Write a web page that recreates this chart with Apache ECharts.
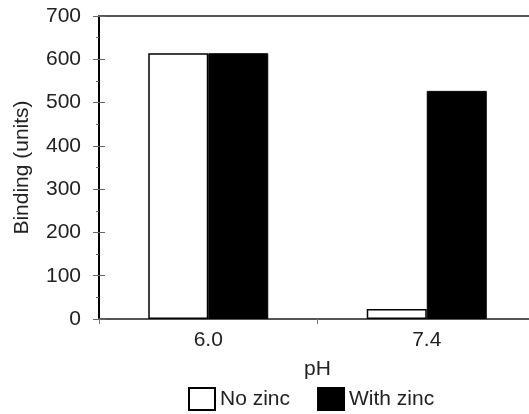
<!DOCTYPE html>
<html>
<head>
<meta charset="utf-8">
<script src="https://cdn.jsdelivr.net/npm/echarts@6/dist/echarts.min.js"></script>
<style>
  html, body { margin: 0; padding: 0; background: #fff; }
  #chart { width: 529px; height: 414px; }
</style>
</head>
<body>
<div id="chart"></div>
<script>
const categories = ['6.0', '7.4'];
const noZinc = [614, 23];
const withZinc = [614, 527];
const yTicks = [0, 700, 100];

const font = 'Liberation Sans, Arial, sans-serif';
const chart = echarts.init(document.getElementById('chart'));

chart.setOption({
  animation: false,
  textStyle: { fontFamily: font },
  grid: {
    left: 99, width: 437, top: 16, bottom: 95,
    outerBoundsMode: 'none'
  },
  legend: {
    left: 188, top: 387, padding: 0,
    itemWidth: 26, itemHeight: 22, itemGap: 27,
    icon: 'rect',
    textStyle: { fontFamily: font, fontSize: 21, color: '#222' },
    data: ['No zinc', 'With zinc']
  },
  xAxis: [
    {
      type: 'category',
      data: categories,
      name: 'pH',
      nameLocation: 'middle',
      nameGap: 40,
      nameTextStyle: { fontFamily: font, fontSize: 21, color: '#222' },
      axisLine: { lineStyle: { color: '#555', width: 2 } },
      axisTick: { show: true, length: 5, lineStyle: { color: '#777' } },
      axisLabel: { fontFamily: font, fontSize: 21, color: '#222', margin: 11 }
    },
    {
      type: 'category',
      position: 'top',
      data: categories,
      axisLine: { show: true, onZero: false, lineStyle: { color: '#555', width: 2 } },
      axisTick: { show: false },
      axisLabel: { show: false }
    }
  ],
  yAxis: [
    {
      type: 'value',
      min: yTicks[0], max: yTicks[1], interval: yTicks[2],
      name: 'Binding (units)',
      nameLocation: 'middle',
      nameGap: 66,
      nameTextStyle: { fontFamily: font, fontSize: 21, color: '#222' },
      axisLine: { show: true, lineStyle: { color: '#000', width: 2 } },
      axisTick: { show: true, length: 6, lineStyle: { color: '#666' } },
      minorTick: { show: true, splitNumber: 2, length: 3, lineStyle: { color: '#666' } },
      splitLine: { show: false },
      axisLabel: { fontFamily: font, fontSize: 21, color: '#222', margin: 18 }
    },
    {
      type: 'value',
      position: 'left',
      min: yTicks[0], max: yTicks[1], interval: yTicks[2],
      axisLine: { show: false },
      axisTick: { show: true, inside: true, length: 6, lineStyle: { color: '#666' } },
      minorTick: { show: false },
      splitLine: { show: false },
      axisLabel: { show: false }
    }
  ],
  series: [
    {
      name: 'No zinc',
      type: 'bar',
      data: noZinc,
      barWidth: 60,
      barGap: '0%',
      itemStyle: { color: '#fff', borderColor: '#000', borderWidth: 1.5 }
    },
    {
      name: 'With zinc',
      type: 'bar',
      data: withZinc,
      barWidth: 60,
      barGap: '0%',
      itemStyle: { color: '#000', borderColor: '#000', borderWidth: 1 }
    }
  ]
});
</script>
</body>
</html>
